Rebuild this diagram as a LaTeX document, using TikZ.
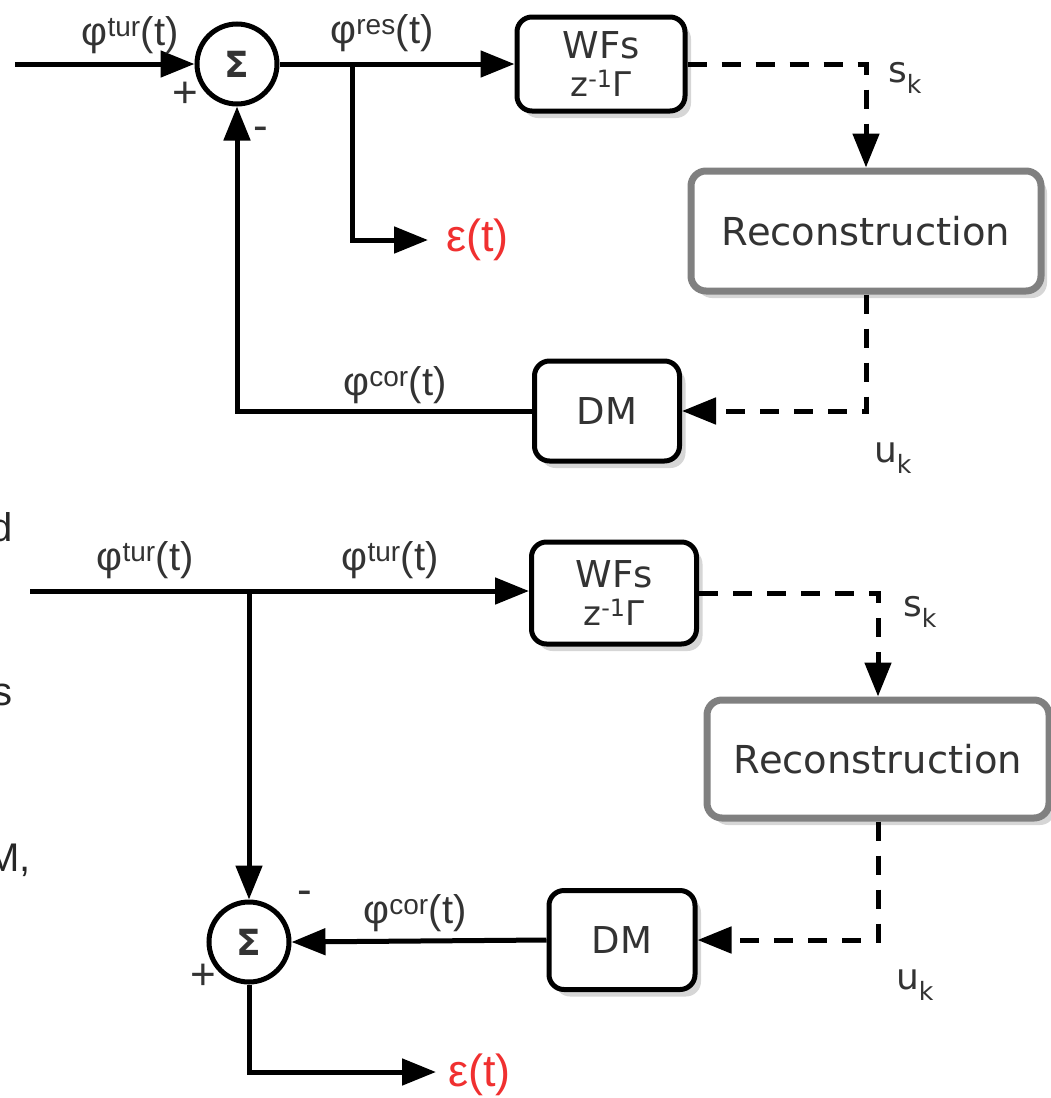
\documentclass[tikz,border=0pt]{standalone}
\usepackage{fontspec}
\setmainfont{Liberation Sans}
\newfontfamily\dejavu{DejaVu Sans}
\usetikzlibrary{arrows.meta,shadows}

\definecolor{txtgray}{HTML}{333333}
\definecolor{rimgray}{HTML}{808080}
\definecolor{shadegray}{HTML}{D6D6D6}
\definecolor{errred}{HTML}{F03030}

\tikzset{
  block/.style={draw=black, line width=5pt, rounded corners=15pt, fill=white,
    text=txtgray, align=center, inner sep=0pt,
    font=\dejavu\fontsize{37}{42}\selectfont,
    drop shadow={shadow xshift=6pt, shadow yshift=-7pt, fill=shadegray, opacity=1}},
  reconbox/.style={block, draw=rimgray, line width=7pt,
    font=\dejavu\fontsize{38.5}{42}\selectfont},
  sumnode/.style={circle, draw=black, line width=5pt, minimum size=80pt,
    inner sep=0pt, fill=white, text=txtgray,
    font=\dejavu\bfseries\fontsize{36}{36}\selectfont},
  sig/.style={line width=5pt, -{Triangle[length=34pt,width=26pt]}},
  plain/.style={line width=5pt},
  dashsig/.style={line width=5pt, dash pattern=on 19pt off 15pt,
    -{Triangle[length=34pt,width=26pt]}},
  lbl/.style={inner sep=0pt, text=txtgray, font=\fontsize{40}{42}\selectfont},
  idx/.style={inner sep=0pt, text=txtgray, font=\dejavu\fontsize{36}{38}\selectfont},
  sgn/.style={inner sep=0pt, text=txtgray, font=\fontsize{44}{44}\selectfont},
  errlbl/.style={inner sep=0pt, text=errred, font=\fontsize{45}{46}\selectfont},
  cut/.style={inner sep=0pt, text=black!85, font=\fontsize{40}{44}\selectfont}
}

\newcommand{\phisig}[1]{φ\textsuperscript{#1}(t)}
\newcommand{\wfslabel}{WFs\\[-4pt]{\fontsize{34}{38}\selectfont z\textsuperscript{-1}Γ}}

\begin{document}
\begin{tikzpicture}[x=1pt,y=-1pt]
\useasboundingbox (0,0) rectangle (1051,1098);

% ---- Upper loop: closed loop ----
\node[sumnode] (sumA) at (237,64) {Σ};
\node[block, minimum width=168pt, minimum height=94pt] (wfsA) at (601,64) {\wfslabel};
\node[reconbox, minimum width=350pt, minimum height=120pt] (recA) at (866,231) {Reconstruction};
\node[block, minimum width=145pt, minimum height=100pt] (dmA) at (607,411) {DM};
\node[errlbl, anchor=west] (errA) at (446,240) {ε(t)};
\coordinate (inA) at (15,64);
\coordinate (brA) at (352,64);

\draw[sig] (inA) -- (sumA);
\draw[sig] (sumA) -- (wfsA);
\draw[sig] (brA) |- ([xshift=-18pt]errA.west);
\draw[dashsig] (wfsA.east) -| (recA.north);
\draw[dashsig] (recA.south) |- (dmA.east);
\draw[sig] (dmA.west) -| (sumA.south);

\node[lbl] (tinA) at (130,35) {\phisig{tur}};
\node[lbl] (tresA) at (382,33) {\phisig{res}};
\node[lbl] (tcorA) at (395,385) {\phisig{cor}};
\node[sgn] (plusA) at (185,95) {+};
\node[sgn] (minusA) at (261,134) {-};
\node[idx] (skA) at (905,78) {s\textsubscript{k}};
\node[idx] (ukA) at (893,458) {u\textsubscript{k}};

% ---- Lower loop: open loop ----
\node[sumnode] (sumB) at (249,942) {Σ};
\node[block, minimum width=165pt, minimum height=102pt] (wfsB) at (614,593) {\wfslabel};
\node[reconbox, minimum width=342pt, minimum height=118pt] (recB) at (878,759) {Reconstruction};
\node[block, minimum width=146pt, minimum height=99pt] (dmB) at (622,940) {DM};
\node[errlbl, anchor=west] (errB) at (448,1075) {ε(t)};
\coordinate (inB) at (30,591);
\coordinate (brB) at (249,591);

\draw[sig] (inB) -- (wfsB.west |- inB);
\draw[sig] (brB) -- (sumB.north);
\draw[dashsig] (wfsB.east) -| (recB.north);
\draw[dashsig] (recB.south) |- (dmB.east);
\draw[sig] (dmB.west) -- (sumB.east);
\draw[sig] (sumB.south) |- ([xshift=-12pt]errB.west |- 0,1072);

\node[lbl] (tinB) at (145,560) {\phisig{tur}};
\node[lbl] (toutB) at (390,560) {\phisig{tur}};
\node[lbl] (tcorB) at (415,913) {\phisig{cor}};
\node[sgn] (minusB) at (305,898) {-};
\node[sgn] (plusB) at (203,977) {+};
\node[idx] (skB) at (920,612) {s\textsubscript{k}};
\node[idx] (ukB) at (915,985) {u\textsubscript{k}};

% cut-off words at the left edge
\node[cut, anchor=east] (cutD) at (13,527) {d};
\node[cut, anchor=east] (cutS) at (13,695) {s};
\node[cut, anchor=east] (cutM) at (31,860) {M,};
\end{tikzpicture}
\end{document}
